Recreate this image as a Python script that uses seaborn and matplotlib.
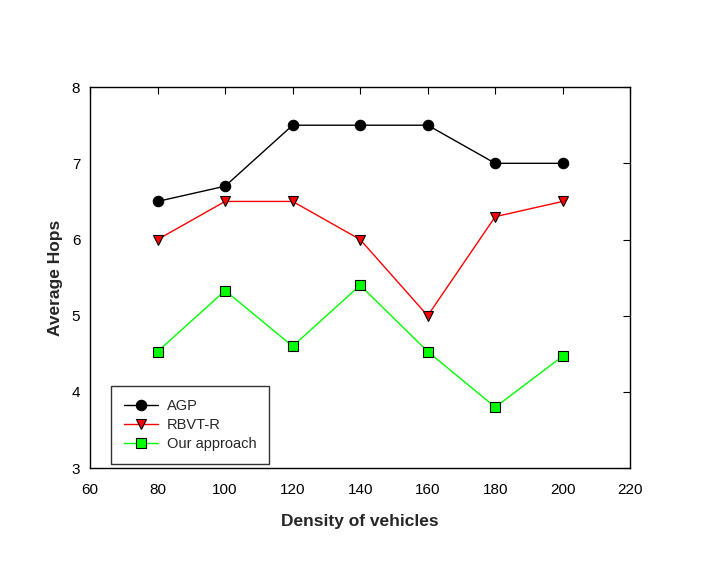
import pandas as pd
import numpy as np
import matplotlib
matplotlib.use("Agg")
import matplotlib.pyplot as plt
import seaborn as sns

density = [80, 100, 120, 140, 160, 180, 200]
agp = [6.5, 6.7, 7.5, 7.5, 7.5, 7.0, 7.0]
rbvt = [6.0, 6.5, 6.5, 6.0, 5.0, 6.3, 6.5]
ours = [4.53, 5.33, 4.6, 5.4, 4.53, 3.8, 4.47]

sns.set_style("white")
plt.rcParams['font.family'] = ['Liberation Sans', 'DejaVu Sans']

fig = plt.figure(figsize=(7.09, 5.62), dpi=100)
ax = fig.add_axes([0.127, 0.167, 0.762, 0.678])

series = [("AGP", agp, "black", "o", "black"),
          ("RBVT-R", rbvt, "red", "v", "black"),
          ("Our approach", ours, "#00ff00", "s", "black")]
for name, vals, col, mk, edge in series:
    sns.lineplot(x=density, y=vals, ax=ax, color=col, marker=mk, markersize=7.5,
                 markeredgecolor=edge, markeredgewidth=0.8, linewidth=1,
                 label=name)

ax.set_xlim(60, 220)
ax.set_ylim(3, 8)
ax.set_xticks(np.arange(60, 221, 20))
ax.set_yticks(np.arange(3, 9, 1))
ax.tick_params(direction="in", top=True, right=True, length=5, width=0.8,
               labelsize=11, colors="black")
ax.tick_params(axis="x", pad=11)
ax.tick_params(axis="y", pad=7)
for s in ax.spines.values():
    s.set_color("black")
    s.set_linewidth(1)

ax.set_xlabel("Density of vehicles", fontsize=12.5, fontweight="bold", labelpad=12)
ax.set_ylabel("Average Hops", fontsize=12.5, fontweight="bold", labelpad=6)

leg = ax.legend(loc="lower left", bbox_to_anchor=(0.039, 0.01), borderaxespad=0,
                fontsize=10.5, frameon=True, fancybox=False, edgecolor="black",
                handlelength=2.3, handletextpad=0.6, borderpad=0.9,
                labelspacing=0.35)
leg.get_frame().set_linewidth(1)

plt.savefig("out.png", dpi=100)
